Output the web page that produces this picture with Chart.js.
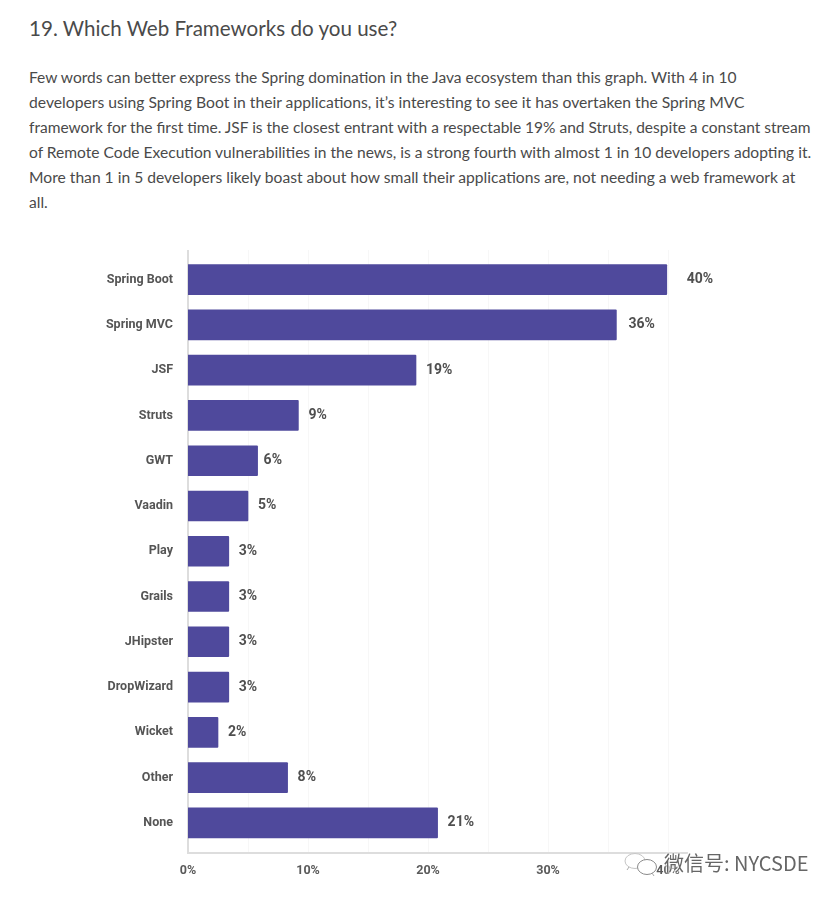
<!DOCTYPE html>
<html lang="en">
<head>
<meta charset="utf-8">
<script src="https://cdn.jsdelivr.net/npm/chart.js@4"></script>
<style>
  html, body { margin: 0; padding: 0; background: #fff; }
  body { width: 836px; height: 899px; position: relative; overflow: hidden; font-family: Lato, sans-serif; color: #4a4a4a; }
  h3 { position: absolute; left: 29px; top: 13px; margin: 0; font-size: 22px; line-height: 30px; font-weight: 400; white-space: nowrap; transform: scaleX(0.936); transform-origin: 0 0; }
  .line { position: absolute; left: 29px; font-size: 15.6px; line-height: 25px; white-space: nowrap; transform-origin: 0 0; }
  #wrap { position: absolute; left: 0; top: 235px; width: 836px; height: 664px; }
  #wrap canvas { display: block; }
  #icon { position: absolute; left: 624px; top: 852px; }
  #mark { position: absolute; left: 664px; top: 850px; font-family: "Noto Sans CJK SC", sans-serif; font-size: 20px; line-height: 26px; color: #666; text-shadow: 0 0 2px #fff, 0 0 2px #fff, 0 0 3px #fff; white-space: nowrap; }
</style>
</head>
<body>
<h3>19. Which Web Frameworks do you use?</h3>
<div class="line" style="top:65px;transform:scaleX(.997)">Few words can better express the Spring domination in the Java ecosystem than this graph. With 4 in 10</div>
<div class="line" style="top:90px;transform:scaleX(1.006)">developers using Spring Boot in their applications, it’s interesting to see it has overtaken the Spring MVC</div>
<div class="line" style="top:115px;transform:scaleX(.994)">framework for the first time. JSF is the closest entrant with a respectable 19% and Struts, despite a constant stream</div>
<div class="line" style="top:140px;transform:scaleX(.999)">of Remote Code Execution vulnerabilities in the news, is a strong fourth with almost 1 in 10 developers adopting it.</div>
<div class="line" style="top:165px;transform:scaleX(1.003)">More than 1 in 5 developers likely boast about how small their applications are, not needing a web framework at</div>
<div class="line" style="top:190px">all.</div>
<div id="wrap"><canvas id="chart" width="836" height="664"></canvas></div>
<svg id="icon" width="36" height="26" viewBox="0 0 36 26">
  <ellipse cx="11" cy="9" rx="10" ry="7.5" fill="#fff" stroke="#c4c4c4"/>
  <ellipse cx="23" cy="15" rx="9.5" ry="7.5" fill="#fff" stroke="#8a8a8a"/>
  <path d="M28 21l2 3M5 15l-2 3" stroke="#aaa" fill="none"/>
</svg>
<div id="mark">微信号: NYCSDE</div>

<script>
var frameworks = ['Spring Boot', 'Spring MVC', 'JSF', 'Struts', 'GWT', 'Vaadin', 'Play', 'Grails', 'JHipster', 'DropWizard', 'Wicket', 'Other', 'None'];
var usage = [39.9, 35.7, 19, 9.2, 5.8, 5, 3.4, 3.4, 3.4, 3.4, 2.5, 8.3, 20.8];
var usageLabels = ['40%', '36%', '19%', '9%', '6%', '5%', '3%', '3%', '3%', '3%', '2%', '8%', '21%'];
var xTicks = [0, 5, 10, 15, 20, 25, 30, 35, 40];
var xTickLabels = { 0: '0%', 10: '10%', 20: '20%', 30: '30%', 40: '40%' };

var fontFamily = 'Roboto, sans-serif';

// axis lines and grid stick out past the bars, so they are drawn here
var axisLines = {
  id: 'axisLines',
  beforeDatasetsDraw: function (chart) {
    var ctx = chart.ctx;
    var area = chart.chartArea;
    var top = area.top - 7;
    var bottom = area.bottom + 7.5;
    ctx.save();
    ctx.lineWidth = 1;
    ctx.strokeStyle = '#f7f7f7';
    xTicks.forEach(function (t) {
      if (t === 0) return;
      var x = Math.round(chart.scales.x.getPixelForValue(t)) + 0.5;
      ctx.beginPath();
      ctx.moveTo(x, top);
      ctx.lineTo(x, bottom);
      ctx.stroke();
    });
    ctx.lineWidth = 2;
    ctx.strokeStyle = '#dddddd';
    ctx.beginPath();
    ctx.moveTo(area.left, top);
    ctx.lineTo(area.left, bottom);
    ctx.lineTo(chart.scales.x.getPixelForValue(40) + 20, bottom);
    ctx.stroke();
    ctx.restore();
  }
};

// value labels to the right of each bar, a few sit further out in the original
var barLabels = {
  id: 'barLabels',
  afterDatasetsDraw: function (chart) {
    var ctx = chart.ctx;
    var gaps = { 0: 20, 1: 12, 4: 6 };
    ctx.save();
    ctx.font = '700 14px ' + fontFamily;
    ctx.fillStyle = '#4f4f4f';
    ctx.textBaseline = 'middle';
    chart.getDatasetMeta(0).data.forEach(function (bar, i) {
      ctx.fillText(usageLabels[i], bar.x + (gaps[i] || 10), bar.y);
    });
    ctx.restore();
  }
};

new Chart(document.getElementById('chart'), {
  type: 'bar',
  data: {
    labels: frameworks,
    datasets: [{
      data: usage,
      backgroundColor: '#4f499c',
      barThickness: 30,
      borderRadius: 1
    }]
  },
  options: {
    indexAxis: 'y',
    responsive: false,
    animation: false,
    layout: { padding: { top: 22, right: 108 } },
    plugins: { legend: { display: false }, tooltip: { enabled: false } },
    scales: {
      x: {
        min: 0,
        max: 45,
        afterBuildTicks: function (axis) {
          axis.ticks = xTicks.map(function (v) { return { value: v }; });
        },
        grid: { display: false },
        border: { display: false },
        ticks: {
          autoSkip: false,
          maxRotation: 0,
          padding: 10,
          color: '#5a5a5a',
          font: { family: fontFamily, size: 12.5, weight: '700' },
          callback: function (v) { return xTickLabels[v] || ''; }
        },
        afterFit: function (axis) { axis.height = 53.5; }
      },
      y: {
        grid: { display: false },
        border: { display: false },
        ticks: {
          autoSkip: false,
          padding: 7,
          color: '#555555',
          font: { family: fontFamily, size: 12.5, weight: '700' }
        },
        afterFit: function (axis) { axis.width = 188; }
      }
    }
  },
  plugins: [axisLines, barLabels]
});
</script>
</body>
</html>
